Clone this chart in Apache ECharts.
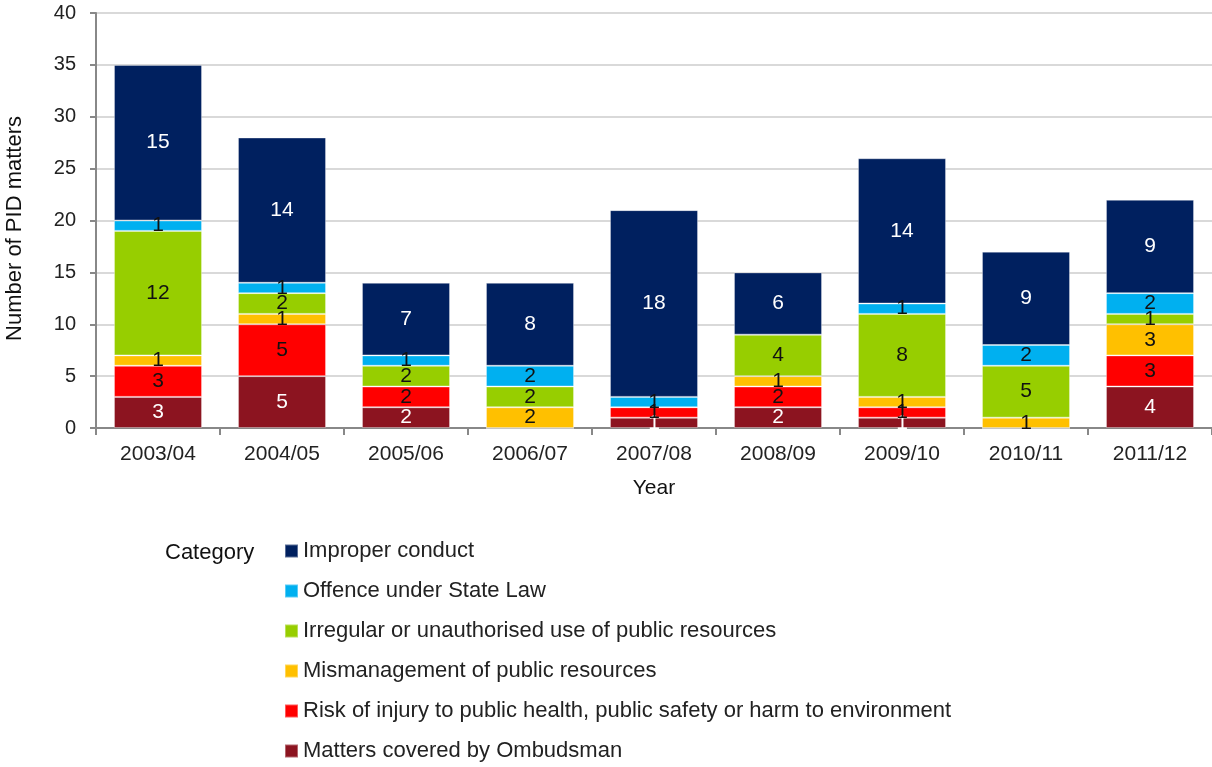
<!DOCTYPE html>
<html><head><meta charset="utf-8">
<script src="https://cdn.jsdelivr.net/npm/echarts@6/dist/echarts.min.js"></script>
<style>html,body{margin:0;padding:0;background:#fff}#c{width:1212px;height:767px}</style>
</head><body><div id="c"></div>
<script>
const years = ['2003/04','2004/05','2005/06','2006/07','2007/08','2008/09','2009/10','2010/11','2011/12'];
const ombudsman   = [3,5,2,0,1,2,1,0,4];
const risk        = [3,5,2,0,1,2,1,0,3];
const mismanage   = [1,1,0,2,0,1,1,1,3];
const irregular   = [12,2,2,2,0,4,8,5,1];
const offence     = [1,1,1,2,1,0,1,2,2];
const improper    = [15,14,7,8,18,6,14,9,9];
const yTicks = [0,5,10,15,20,25,30,35,40];

const FONT = '"Liberation Sans", Arial, sans-serif';
const seriesDefs = [
  {name:'Matters covered by Ombudsman', data:ombudsman, color:'#8C1420', lab:'#fff'},
  {name:'Risk of injury to public health, public safety or harm to environment', data:risk, color:'#FF0000', lab:'#111'},
  {name:'Mismanagement of public resources', data:mismanage, color:'#FFC000', lab:'#111'},
  {name:'Irregular or unauthorised use of public resources', data:irregular, color:'#97CE00', lab:'#111'},
  {name:'Offence under State Law', data:offence, color:'#00B0F0', lab:'#111'},
  {name:'Improper conduct', data:improper, color:'#00205F', lab:'#fff'}
];
const chart = echarts.init(document.getElementById('c'), null, {renderer:'canvas'});
chart.setOption({
  animation:false,
  textStyle:{fontFamily:FONT},
  grid:{left:96, right:0, top:13, bottom:339, containLabel:false, outerBoundsMode:'none'},
  graphic:[{type:'text', left:165, top:542, style:{text:'Category', font:'22px '+FONT, fill:'#111'}}],
  legend:{
    orient:'vertical', left:284, top:540, height:230, padding:0,
    itemWidth:13, itemHeight:13, itemGap:18,
    icon:'rect',
    textStyle:{fontSize:22, color:'#222', fontFamily:FONT, padding:[0,0,0,0]},
    data:['Improper conduct','Offence under State Law','Irregular or unauthorised use of public resources','Mismanagement of public resources','Risk of injury to public health, public safety or harm to environment','Matters covered by Ombudsman']
  },
  xAxis:{
    type:'category', data:years,
    name:'Year', nameLocation:'middle', nameGap:50,
    nameTextStyle:{fontSize:21, color:'#111', fontFamily:FONT},
    axisLine:{lineStyle:{color:'#888', width:2}},
    axisTick:{show:true, length:7, lineStyle:{color:'#888', width:2}},
    axisLabel:{fontSize:21, color:'#222', margin:16, fontFamily:FONT}
  },
  yAxis:{
    type:'value', min:yTicks[0], max:yTicks[yTicks.length-1], interval:5,
    name:'Number of PID matters', nameLocation:'middle', nameGap:70,
    nameTextStyle:{fontSize:22, color:'#111', fontFamily:FONT, padding:[0,16,0,0]},
    axisLine:{show:true, lineStyle:{color:'#888', width:2}},
    axisTick:{show:true, length:6, lineStyle:{color:'#888', width:2}},
    axisLabel:{fontSize:20, color:'#222', margin:20, fontFamily:FONT},
    splitLine:{lineStyle:{color:'#d9d9d9', width:2}}
  },
  series: seriesDefs.map(s=>({
    name:s.name, type:'bar', stack:'all', data:s.data, barWidth:'71%',
    itemStyle:{color:s.color, borderColor:'rgba(255,255,255,0.35)', borderWidth:1},
    label:{show:true, position:'inside', color:s.lab, fontSize:21, fontFamily:FONT,
      formatter:p=>p.value?String(p.value):''}
  }))
});
</script></body></html>
